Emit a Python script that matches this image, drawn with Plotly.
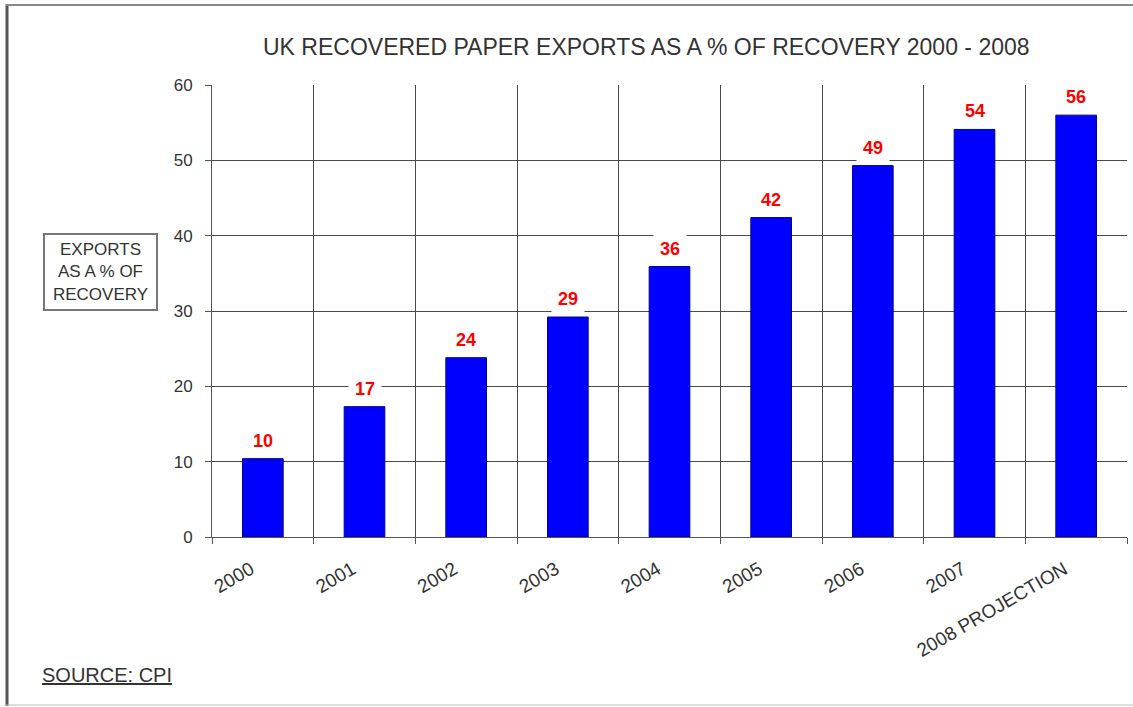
import plotly.graph_objects as go

categories = ["2000", "2001", "2002", "2003", "2004", "2005", "2006", "2007", "2008 PROJECTION"]
export_pct = [10.4, 17.3, 23.8, 29.2, 35.9, 42.4, 49.3, 54.1, 56.0]
y_ticks = [0, 10, 20, 30, 40, 50, 60]

FONT = "Liberation Sans, Arial, sans-serif"
W, H = 1133, 707
L, R, T, B = 212, 6, 85, 170
pw, ph = W - L - R, H - T - B


def px(x):
    return (x - L) / pw


def py(y):
    return (H - B - y) / ph


fig = go.Figure()
fig.add_trace(go.Bar(
    x=categories, y=export_pct,
    marker=dict(color="#0000FF", line=dict(color="#00008B", width=1)),
    hoverinfo="x+y",
))

annotations = []
for i, v in enumerate(export_pct):
    annotations.append(dict(
        x=i, y=v, xref="x", yref="y", text=f"{v:.0f}", showarrow=False,
        yanchor="bottom", yshift=1,
        font=dict(family=FONT, size=18, color="#FF0000", weight="bold"),
        bgcolor="white", borderpad=6,
    ))

annotations.append(dict(
    x=px(646), y=py(47), xref="paper", yref="paper", showarrow=False,
    text="UK RECOVERED PAPER EXPORTS AS A % OF RECOVERY 2000 - 2008",
    font=dict(family=FONT, size=23, color="#333333"),
    xanchor="center", yanchor="middle",
))
annotations.append(dict(
    x=px(100.5), y=py(272), xref="paper", yref="paper", showarrow=False,
    text="EXPORTS<br>AS A % OF<br>RECOVERY",
    font=dict(family=FONT, size=17, color="#333333"),
    xanchor="center", yanchor="middle", align="center",
    bordercolor="#777777", borderwidth=2, borderpad=2,
    width=107, height=70, bgcolor="white",
))
annotations.append(dict(
    x=px(40), y=py(675), xref="paper", yref="paper", showarrow=False,
    text="<u>SOURCE: CPI</u>",
    font=dict(family=FONT, size=20, color="#333333"),
    xanchor="left", yanchor="middle",
))

shapes = [
    dict(type="line", xref="paper", yref="paper", x0=px(7), x1=px(7), y0=py(4), y1=py(706),
         line=dict(color="#555555", width=3)),
    dict(type="line", xref="paper", yref="paper", x0=px(6), x1=px(1140), y0=py(5), y1=py(5),
         line=dict(color="#888888", width=2)),
    dict(type="line", xref="paper", yref="paper", x0=px(6), x1=px(1140), y0=py(705), y1=py(705),
         line=dict(color="#bbbbbb", width=1)),
]

fig.update_layout(
    width=W, height=H,
    margin=dict(l=L, r=R, t=T, b=B, pad=0),
    paper_bgcolor="white", plot_bgcolor="white",
    showlegend=False, bargap=0.6,
    annotations=annotations, shapes=shapes,
    font=dict(family=FONT, color="#333333"),
    xaxis=dict(
        type="category", categoryorder="array", categoryarray=categories,
        range=[-0.5, len(categories) - 0.5],
        tickson="boundaries", ticks="outside", ticklen=6,
        tickcolor="#555555", showgrid=True, gridcolor="#4a4a4a", gridwidth=1,
        showline=True, linecolor="#555555", linewidth=1,
        tickangle=-30, ticklabelstandoff=13, ticklabelshift=-12,
        tickfont=dict(family=FONT, size=19, color="#333333"),
    ),
    yaxis=dict(
        range=[0, 60], tickvals=y_ticks, ticks="outside", ticklen=6,
        tickcolor="#555555", showgrid=True, gridcolor="#4a4a4a", gridwidth=1,
        showline=True, linecolor="#555555", linewidth=1, zeroline=False,
        ticklabelstandoff=9,
        tickfont=dict(family=FONT, size=17, color="#333333"),
    ),
)

fig.write_html("out.html")
